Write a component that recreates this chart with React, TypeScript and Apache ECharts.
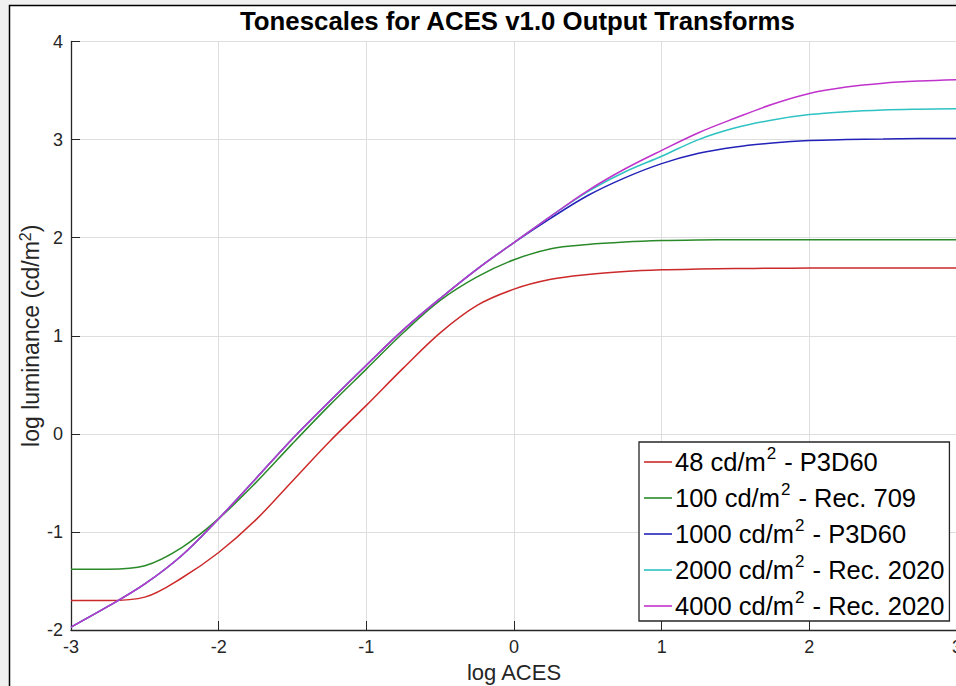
import React, { useEffect, useRef } from "react";
import * as echarts from "echarts";

const logAces = [-3, -2.75, -2.5, -2.25, -2, -1.75, -1.5, -1.25, -1, -0.75, -0.5, -0.25, 0, 0.25, 0.5, 0.75, 1, 1.25, 1.5, 1.75, 2, 2.25, 2.5, 2.75, 3];

const lum48 = [-1.7, -1.7, -1.665, -1.47, -1.21, -0.88, -0.48, -0.08, 0.29, 0.67, 1.03, 1.31, 1.475, 1.575, 1.625, 1.655, 1.672, 1.68, 1.685, 1.688, 1.69, 1.69, 1.69, 1.69, 1.69];
const lum100 = [-1.38, -1.38, -1.345, -1.16, -0.865, -0.5, -0.1, 0.29, 0.66, 1.03, 1.36, 1.6, 1.775, 1.887, 1.93, 1.955, 1.97, 1.977, 1.98, 1.98, 1.98, 1.98, 1.98, 1.98, 1.98];
const lum1000 = [-1.97, -1.76, -1.53, -1.24, -0.865, -0.46, -0.05, 0.33, 0.7, 1.06, 1.38, 1.68, 1.95, 2.2, 2.43, 2.61, 2.755, 2.86, 2.925, 2.965, 2.99, 3.0, 3.005, 3.01, 3.012];
const lum2000 = [-1.97, -1.76, -1.53, -1.24, -0.865, -0.46, -0.05, 0.33, 0.7, 1.06, 1.38, 1.68, 1.95, 2.22, 2.47, 2.67, 2.83, 3.0, 3.12, 3.2, 3.255, 3.285, 3.302, 3.31, 3.315];
const lum4000 = [-1.97, -1.76, -1.53, -1.24, -0.865, -0.46, -0.05, 0.33, 0.7, 1.06, 1.38, 1.68, 1.95, 2.22, 2.48, 2.7, 2.89, 3.07, 3.22, 3.36, 3.47, 3.535, 3.575, 3.597, 3.61];

const seriesValues = [lum48, lum100, lum1000, lum2000, lum4000];
const seriesNames = ["48 cd/m2 - P3D60", "100 cd/m2 - Rec. 709", "1000 cd/m2 - P3D60", "2000 cd/m2 - Rec. 2020", "4000 cd/m2 - Rec. 2020"];
const legendPre = ["48 cd/m", "100 cd/m", "1000 cd/m", "2000 cd/m", "4000 cd/m"];
const legendPost = [" - P3D60", " - Rec. 709", " - P3D60", " - Rec. 2020", " - Rec. 2020"];
const seriesColors = ["#cc2a2a", "#2a8a2a", "#2222b8", "#2ec2c2", "#c032cc"];

const titleText = "Tonescales for ACES v1.0 Output Transforms";
const xName = "log ACES";

const FONT = "'Liberation Sans', Arial, Helvetica, sans-serif";
const AXIS_COLOR = "#262626";

export default function App() {
  const ref = useRef<HTMLDivElement>(null);
  useEffect(() => {
    if (!ref.current) return;
    const chart = echarts.init(ref.current, undefined, { renderer: "svg" });
    const series = seriesValues.map((vals, i) => ({
      type: "line",
      name: seriesNames[i],
      data: logAces.map((x, j) => [x, vals[j]]),
      symbol: "none",
      smooth: 0.35,
      lineStyle: { color: seriesColors[i], width: 1.5 },
      itemStyle: { color: seriesColors[i] },
      clip: true,
      z: 2 + i,
    }));
    chart.setOption({
      animation: false,
      backgroundColor: "#f0f0f0",
      textStyle: { fontFamily: FONT },
      graphic: {
        elements: [
          {
            type: "rect",
            z: -100,
            silent: true,
            shape: { x: 9.5, y: 5.5, width: 1000, height: 800 },
            style: { fill: "#ffffff", stroke: "#000000", lineWidth: 1.5 },
          },
        ],
      },
      title: {
        text: titleText,
        left: 240,
        top: 8,
        padding: 0,
        textStyle: { fontFamily: FONT, fontSize: 25.8, fontWeight: "bold", color: "#000000" },
      },
      grid: {
        left: 71,
        width: 886,
        top: 41.5,
        height: 588.5,
        containLabel: false,
        outerBoundsMode: "none",
      },
      xAxis: {
        type: "value",
        min: -3,
        max: 3,
        interval: 1,
        name: xName,
        nameLocation: "middle",
        nameGap: 31,
        nameMoveOverlap: false,
        nameTextStyle: { fontFamily: FONT, fontSize: 22, color: AXIS_COLOR },
        axisLine: { onZero: false, lineStyle: { color: AXIS_COLOR, width: 1.3 } },
        axisTick: { inside: true, length: 9, lineStyle: { color: AXIS_COLOR } },
        axisLabel: { fontFamily: FONT, fontSize: 18, color: AXIS_COLOR, margin: 8 },
        splitLine: { show: true, lineStyle: { color: "#dedede", width: 1 } },
      },
      yAxis: {
        type: "value",
        min: -2,
        max: 4,
        interval: 1,
        name: "{a|log luminance (cd/m}{s|2}{a|)}",
        nameLocation: "middle",
        nameRotate: 90,
        nameGap: 26,
        nameMoveOverlap: false,
        nameTextStyle: {
          fontFamily: FONT,
          color: AXIS_COLOR,
          rich: {
            a: { fontFamily: FONT, fontSize: 23, color: AXIS_COLOR, lineHeight: 28, verticalAlign: "middle" },
            s: { fontFamily: FONT, fontSize: 16, color: AXIS_COLOR, lineHeight: 16, verticalAlign: "top" },
          },
        },
        axisLine: { show: true, onZero: false, lineStyle: { color: AXIS_COLOR, width: 1.3 } },
        axisTick: { show: true, inside: true, length: 9, lineStyle: { color: AXIS_COLOR } },
        axisLabel: { fontFamily: FONT, fontSize: 18, color: AXIS_COLOR, margin: 8 },
        splitLine: { show: true, lineStyle: { color: "#dedede", width: 1 } },
      },
      legend: {
        orient: "vertical",
        left: 639,
        top: 442,
        padding: [3, 5, 2, 5],
        itemGap: 6,
        itemWidth: 28,
        itemHeight: 1.6,
        icon: "rect",
        backgroundColor: "#ffffff",
        borderColor: "#262626",
        borderWidth: 1.3,
        borderRadius: 0,
        selectedMode: false,
        data: seriesNames,
        formatter: (name: string) => {
          const i = seriesNames.indexOf(name);
          return "{a|" + legendPre[i] + "}{s|2}{a|" + legendPost[i] + "}";
        },
        textStyle: {
          fontFamily: FONT,
          color: "#000000",
          padding: [0, 0, 0, -2],
          rich: {
            a: { fontFamily: FONT, fontSize: 25.5, color: "#000000", lineHeight: 34, verticalAlign: "middle" },
            s: { fontFamily: FONT, fontSize: 17, color: "#000000", lineHeight: 17, verticalAlign: "top", padding: [0, 1, 0, 1] },
          },
        },
      },
      series,
    });
    return () => chart.dispose();
  }, []);
  return (
    <div
      ref={ref}
      style={{ position: "fixed", left: 0, top: 0, width: 956, height: 686 }}
    />
  );
}
